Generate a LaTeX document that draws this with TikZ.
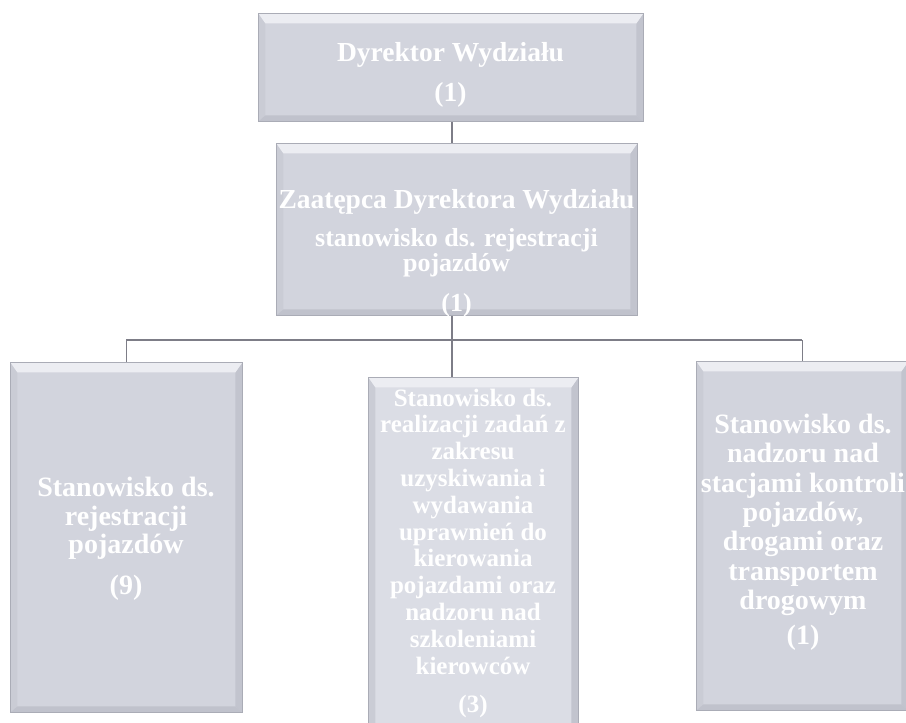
\documentclass[tikz,border=0pt]{standalone}
\usepackage{fontspec}
\setmainfont{Liberation Serif}
\definecolor{fillA}{RGB}{210,212,221}
\definecolor{fillB}{RGB}{219,221,229}
\definecolor{boxline}{RGB}{170,172,182}
\definecolor{bevtop}{RGB}{236,237,242}
\definecolor{bevleft}{RGB}{202,204,213}
\definecolor{bevright}{RGB}{194,196,206}
\definecolor{bevbot}{RGB}{192,194,204}
\definecolor{conn}{RGB}{125,125,135}
\begin{document}
\begin{tikzpicture}[x=1pt,y=-1pt,
  bevelbox/.style={draw=boxline, line width=0.8pt, fill=#1, inner sep=0pt,
    anchor=north west,
    path picture={
      \coordinate (pNW) at (path picture bounding box.north west);
      \coordinate (pNE) at (path picture bounding box.north east);
      \coordinate (pSW) at (path picture bounding box.south west);
      \coordinate (pSE) at (path picture bounding box.south east);
      \fill[bevleft] (pNW) -- (pSW) -- ([shift={(7pt,6pt)}]pSW) -- ([shift={(7pt,-10pt)}]pNW) -- cycle;
      \fill[bevright] (pNE) -- (pSE) -- ([shift={(-7pt,6pt)}]pSE) -- ([shift={(-7pt,-10pt)}]pNE) -- cycle;
      \fill[bevbot] (pSW) -- (pSE) -- ([shift={(-7pt,6pt)}]pSE) -- ([shift={(7pt,6pt)}]pSW) -- cycle;
      \fill[bevtop] (pNW) -- (pNE) -- ([shift={(-7pt,-10pt)}]pNE) -- ([shift={(7pt,-10pt)}]pNW) -- cycle;
    }},
  txt/.style={text=white, align=center, inner sep=0pt},
  link/.style={draw=conn, line width=1.3pt}
]
\useasboundingbox (0,0) rectangle (906,723);

% boxes
\node[bevelbox=fillA, minimum width=385pt, minimum height=108pt] (dyr) at (258,13) {};
\node[bevelbox=fillA, minimum width=361pt, minimum height=172pt] (zast) at (276,143) {};
\node[bevelbox=fillA, minimum width=232pt, minimum height=350pt] (rej) at (10,362) {};
\node[bevelbox=fillB, minimum width=210pt, minimum height=352pt] (upr) at (368,377) {};
\node[bevelbox=fillA, minimum width=212pt, minimum height=349pt] (nad) at (696,361) {};

% connectors
\coordinate (bus) at (452,340);
\draw[link] (dyr.south -| bus) -- (zast.north -| bus);
\draw[link] (zast.south -| bus) -- (bus);
\draw[link] (rej.north |- bus) -- (nad.north |- bus);
\draw[link] (rej.north |- bus) -- (rej.north);
\draw[link] (nad.north |- bus) -- (nad.north);
\draw[link] (bus) -- (upr.north -| bus);

% texts
\node[txt, font=\bfseries\fontsize{27.5}{40}\selectfont] (tdyr) at (450.5,75) {Dyrektor Wydziału\\(1)};
\node[txt, font=\bfseries\fontsize{26}{25}\selectfont] (tzast) at (456.5,253.5)
  {{\fontsize{27.5}{25}\selectfont Zaatępca Dyrektora Wydziału}\\[13pt]
   stanowisko ds. rejestracji\\pojazdów\\[15pt](1)};
\node[txt, font=\bfseries\fontsize{28}{28.5}\selectfont] (trej) at (126,539)
  {Stanowisko ds.\\rejestracji\\pojazdów\\[12.5pt](9)};
\node[txt, font=\bfseries\fontsize{25}{26.8}\selectfont] (tupr) at (473,553.5)
  {Stanowisko ds.\\realizacji zadań z\\zakresu\\uzyskiwania i\\wydawania\\uprawnień do\\kierowania\\pojazdami oraz\\nadzoru nad\\szkoleniami\\kierowców\\[12pt](3)};
\node[txt, font=\bfseries\fontsize{28}{29.3}\selectfont] (tnad) at (803,532.5)
  {Stanowisko ds.\\nadzoru nad\\stacjami kontroli\\pojazdów,\\drogami oraz\\transportem\\drogowym\\[6pt](1)};
\end{tikzpicture}
\end{document}
